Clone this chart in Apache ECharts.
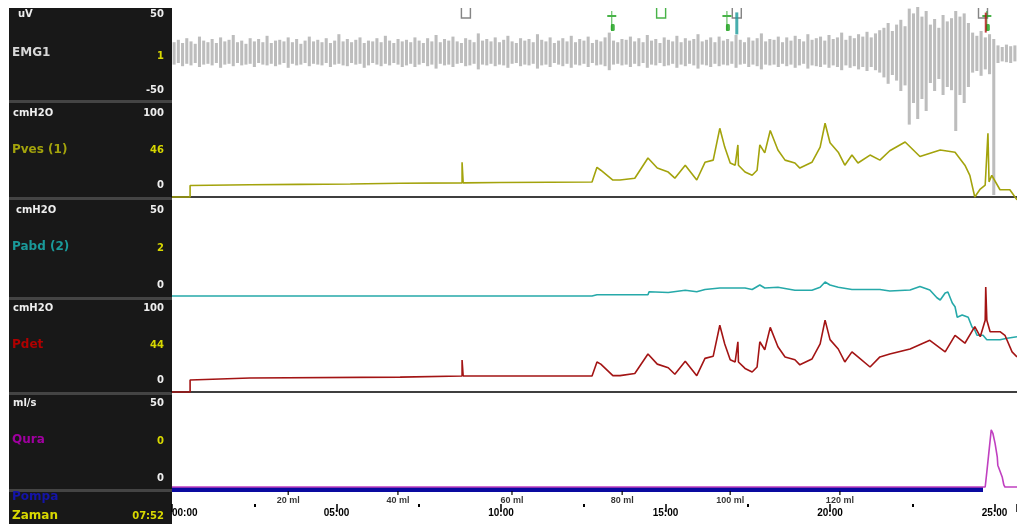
<!DOCTYPE html>
<html><head><meta charset="utf-8">
<script src="https://cdn.jsdelivr.net/npm/echarts/dist/echarts.min.js"></script>
<style>html,body{margin:0;padding:0;background:#fff}#c{width:1017px;height:524px}</style>
</head><body><div id="c"></div>
<script>
const T_MAX = 1541; // seconds
const timeTickStep = 300;

// EMG1 upper / lower excursions per sample (uV)
const emgUp = [
 16,19,15,21,17,14,23,18,16,20,15,22,17,19,25,16,18,14,21,17,20,16,24,15,18,19,17,22,16,20,14,18,23,17,19,16,21,15,18,26,17,20,16,19,22,15,18,17,21,16,24,18,15,20,17,
 19,16,22,18,15,21,17,25,16,20,18,23,17,15,21,19,16,27,18,20,17,22,16,19,24,17,15,21,18,20,16,26,19,17,22,15,18,21,17,24,
 16,20,18,23,15,19,17,22,28,18,16,20,19,23,17,21,16,25,18,20,15,22,19,17,24,16,21,18,20,26,17,19,22,16,23,18,20,17,25,19,
 16,22,18,21,27,17,20,19,23,16,22,18,24,20,17,26,19,21,23,18,25,20,22,28,19,24,21,26,23,29,22,27,31,
 34,40,30,38,44,36,58,52,60,48,55,38,45,34,50,42,46,55,48,52,40,28,24,30,22,26,20,12,10,13,11,12
];
const emgDown = [
 -12,-10,-14,-11,-13,-10,-15,-12,-11,-13,-10,-16,-12,-11,-14,-10,-13,-12,-11,-15,-10,-12,-13,-11,-14,-12,-10,-16,-11,-13,-12,-10,-14,-11,-12,-13,-10,-15,-12,-11,-13,-14,-10,-12,-11,-16,-13,-10,-12,-14,-11,-13,-10,-12,-15,
 -13,-11,-15,-12,-10,-14,-12,-17,-11,-13,-12,-15,-11,-10,-14,-13,-11,-18,-12,-13,-11,-14,-12,-13,-16,-11,-10,-14,-12,-13,
 -11,-17,-13,-12,-15,-10,-12,-14,-11,-16,-12,-13,-11,-15,-10,-13,-12,-14,-19,-12,-11,-13,-12,-15,-11,-14,-10,-16,-12,-13,
 -10,-14,-13,-11,-16,-12,-14,-11,-13,-17,-12,-13,-15,-11,-14,-12,-13,-11,-16,-12,-11,-15,-12,-14,-18,-12,-13,-12,-15,-11,
 -14,-12,-16,-13,-11,-17,-13,-14,-15,-12,-16,-13,-15,-19,-13,-16,-14,-18,-15,-20,-15,-19,-22,
 -28,-36,-25,-32,-45,-38,-87,-60,-80,-55,-70,-35,-45,-30,-50,-40,-44,-95,-50,-60,-40,-22,-20,-26,-18,-24,-175,-10,-8,-9,-10,-8
];

// Pves (1) cmH2O  [time s, value]
const pves = [[0,-16],[33,-16],[33,0],[142,1],[233,1.5],[325,2],[416,3],[529,3.5],[529,32],[531,3.5],[598,4],[689,4.5],[766,4.7],[775,25],[782,21],[804,7.5],[817,7.5],[844,10],[868,38],[885,24],[905,18.5],[917,10],[936,28],[957,7.5],[972,32],[987,35],[999,79],[1008,53],[1018,31],[1027,28],[1032,56],[1033,28],[1045,18.5],[1058,14],[1067,21],[1072,56],[1081,45],[1091,76],[1105,49],[1118,35],[1136,31],[1145,24],[1167,32],[1182,53],[1191,86],[1200,59],[1215,46],[1227,28],[1240,42],[1251,31],[1273,42],[1291,35],[1309,48],[1337,60],[1364,40],[1401,49],[1428,46],[1446,28],[1455,14],[1464,-16],[1474,-5],[1483,0.5],[1488,72],[1490,5],[1495,14],[1510,-6],[1528,-6],[1541,-20]];

// Pabd (2) cmH2O
const pabd = [[0,-7.3],[766,-7.3],[775,-6.5],[868,-6.5],[870,-4.5],[905,-5],[936,-3.5],[957,-4.5],[972,-3],[999,-2],[1045,-2],[1058,-3],[1072,0],[1081,-2],[1105,-1.5],[1136,-3.5],[1167,-3.5],[1182,-1.5],[1191,2],[1200,0],[1215,-1.5],[1240,-3],[1291,-3],[1309,-4],[1346,-3.3],[1364,-1],[1382,-3.3],[1395,-8.5],[1401,-10],[1410,-5.3],[1415,-4.7],[1423,-12],[1428,-14.5],[1432,-21.5],[1441,-20],[1452,-21.5],[1459,-28],[1464,-30],[1468,-33.5],[1479,-33.5],[1486,-36.5],[1510,-36.5],[1523,-35.5],[1541,-34.5]];

// Pdet cmH2O
const pdet = [[0,-16.7],[33,-16.7],[33,0],[142,2.8],[416,4],[529,5.6],[529,27.8],[531,5.6],[766,5.6],[775,25],[782,22],[804,6],[817,6],[844,9],[868,36],[885,22],[905,17],[917,8],[936,26],[957,6],[972,30],[987,33],[999,76],[1008,50],[1018,28],[1027,25],[1032,53],[1033,25],[1045,16],[1058,11],[1067,18],[1072,53],[1081,42],[1091,73],[1105,46],[1118,32],[1136,28],[1145,21],[1167,29],[1182,50],[1191,83],[1200,56],[1215,43],[1227,25],[1240,39],[1251,32],[1273,18],[1291,32],[1309,36],[1346,43],[1382,55],[1410,39],[1428,62],[1446,51],[1464,74],[1474,60],[1483,83],[1484,129],[1486,83],[1492,67],[1510,67],[1519,62],[1532,39],[1541,32]];

// Qura ml/s
const qura = [[0,0],[1483,0],[1486,0],[1486,9],[1494,34],[1497,32],[1501,26],[1505,18],[1506,13],[1514,6],[1517,1.2],[1519,0],[1541,0]];

// Pompa running interval
const pompa = [[0,1],[1479,1]];

// infused volume ticks
const volTimes = [212,412,620,821,1018,1218];
const volLabels = ['20 ml','40 ml','60 ml','80 ml','100 ml','120 ml'];

// event markers
const evGray = [536,1030,1479];
const evGreenT = [802,1012,1486];
const evGreenBox = [892];
const evTeal = [1030];
const evRed = [1484];

const fmtTime = v => { const m = Math.floor(v/60), s = Math.round(v%60); return String(m).padStart(2,'0')+':'+String(s).padStart(2,'0'); };

const L = 172, W = 845;
const grids = [
  {top:8,height:92},{top:103,height:94},{top:200,height:97},{top:300,height:92},{top:395,height:92},{top:487,height:5},{top:494,height:10}
].map(g=>Object.assign({left:L,width:W,containLabel:false},g));

const yRanges = [[-56.25,58.75],[-16,114],[-8,56.7],[-16.7,111],[0,54.8],[0,2],[0,1]];

const xAxes = grids.map((g,i)=>({
  type:'value', gridIndex:i, min:0, max:T_MAX, show:(i===1||i===3),
  axisLine:{show:(i===1||i===3), onZero:false, lineStyle:{color:'#000',width:1.5}},
  axisTick:{show:false}, axisLabel:{show:false}, splitLine:{show:false}
}));
xAxes[6] = {
  type:'value', gridIndex:6, min:0, max:T_MAX, interval:timeTickStep, position:'bottom',
  axisLine:{show:false},
  axisTick:{show:true, length:8, lineStyle:{color:'#000',width:1.5}},
  minorTick:{show:true, splitNumber:2, length:3, lineStyle:{color:'#000',width:2}},
  axisLabel:{show:true, margin:4, fontSize:10, fontWeight:'bold', color:'#000', fontFamily:'Liberation Sans', formatter:fmtTime, alignMinLabel:'left', showMaxLabel:false},
  splitLine:{show:false}
};
const yAxes = yRanges.map((r,i)=>({type:'value', gridIndex:i, min:r[0], max:r[1], show:false}));

const EMG_TOP = 52.5;
const dtEmg = T_MAX / emgUp.length;
const base = {type:'line', showSymbol:false, symbol:'none', clip:false, animation:false};
const series = [
  {type:'custom', xAxisIndex:0, yAxisIndex:0, clip:false, animation:false,
    data: emgUp.map((u,i)=>[(i+0.5)*dtEmg, u, emgDown[i]]),
    encode:{x:0, y:[1,2]},
    renderItem:(params, api)=>{
      const t = api.value(0);
      const p1 = api.coord([t, api.value(1)]);
      const p2 = api.coord([t, api.value(2)]);
      const w = api.size([dtEmg, 0])[0] * 0.72;
      return {type:'rect', shape:{x:p1[0]-w/2, y:p1[1], width:w, height:p2[1]-p1[1]}, style:{fill:'#bdbdbd'}};
    }},
  Object.assign({}, base, {xAxisIndex:1,yAxisIndex:1, data:pves, lineStyle:{color:'#a3a30c',width:1.6}}),
  Object.assign({}, base, {xAxisIndex:2,yAxisIndex:2, data:pabd, lineStyle:{color:'#26a9a9',width:1.6}}),
  Object.assign({}, base, {xAxisIndex:3,yAxisIndex:3, data:pdet, lineStyle:{color:'#a31414',width:1.6}}),
  Object.assign({}, base, {xAxisIndex:4,yAxisIndex:4, data:qura, lineStyle:{color:'#c040c0',width:1.6}, z:3}),
  Object.assign({}, base, {xAxisIndex:5,yAxisIndex:5, data:pompa, lineStyle:{color:'#0a0aa0',width:5}, z:2}),
  {type:'scatter', xAxisIndex:6, yAxisIndex:6, data:volTimes.map((t,i)=>({value:[t,1], label:{formatter:volLabels[i]}})),
    symbol:'rect', symbolSize:[1.5,4], symbolOffset:[0,-1], itemStyle:{color:'#000'}, animation:false,
    label:{show:true, position:'bottom', distance:1, fontSize:9, fontWeight:'bold', color:'#000', fontFamily:'Liberation Sans'}},
  {type:'scatter', xAxisIndex:0, yAxisIndex:0, data:evGray.map(t=>[t,EMG_TOP]), symbol:'path://M0,0 L0,10 L8,10 L8,0', symbolSize:[9,10],
    itemStyle:{color:'none', borderColor:'#666', borderWidth:1.5}, animation:false},
  {type:'scatter', xAxisIndex:0, yAxisIndex:0, data:evGreenBox.map(t=>[t,EMG_TOP]), symbol:'path://M0,0 L0,10 L8,10 L8,0', symbolSize:[9,10],
    itemStyle:{color:'none', borderColor:'#1aa01a', borderWidth:1.5}, animation:false},
  {type:'scatter', xAxisIndex:0, yAxisIndex:0, data:evGreenT.map(t=>[t,EMG_TOP-10]), symbol:'path://M4,0 L4,20 M0,5 L8,5', symbolSize:[9,20],
    itemStyle:{color:'none', borderColor:'#1aa01a', borderWidth:1.5}, animation:false},
  {type:'scatter', xAxisIndex:0, yAxisIndex:0, data:evGreenT.map(t=>[t,EMG_TOP-18]), symbol:'roundRect', symbolSize:[4,7], symbolOffset:[1,0],
    itemStyle:{color:'#1aa01a'}, animation:false},
  {type:'scatter', xAxisIndex:0, yAxisIndex:0, data:evTeal.map(t=>[t,EMG_TOP-13]), symbol:'rect', symbolSize:[3,22],
    itemStyle:{color:'#1a9a9a'}, animation:false},
  {type:'scatter', xAxisIndex:0, yAxisIndex:0, data:evRed.map(t=>[t,EMG_TOP-12]), symbol:'rect', symbolSize:[2,20],
    itemStyle:{color:'#b01010'}, animation:false}
];

// left panel
const fSmall = 'bold 10px "DejaVu Sans"';
const fName = 'bold 12px "DejaVu Sans"';
const txt = (x,y,s,c,align,f) => ({type:'text', x:x, y:y, style:{text:s, fill:c||'#eee', font:f||fSmall, textAlign:align||'left', textVerticalAlign:'middle'}});
const RX = 164;
const Y = '#d8d800';
const graphics = [
  {type:'rect', shape:{x:9,y:8,width:163,height:516}, style:{fill:'#181818'}},
  ...[100,197,297,392,489].map(y=>({type:'rect', shape:{x:9,y:y,width:163,height:3}, style:{fill:'#444'}})),
  txt(18,14,'uV'), txt(RX,14,'50',null,'right'), txt(12,53,'EMG1','#d8d8d8',null,fName), txt(RX,56,'1',Y,'right'), txt(RX,90,'-50',null,'right'),
  txt(13,113,'cmH2O'), txt(RX,113,'100',null,'right'), txt(12,150,'Pves (1)','#a3a30c',null,fName), txt(RX,150,'46',Y,'right'), txt(RX,185,'0',null,'right'),
  txt(16,210,'cmH2O'), txt(RX,210,'50',null,'right'), txt(12,247,'Pabd (2)','#1a9a9a',null,fName), txt(RX,248,'2',Y,'right'), txt(RX,285,'0',null,'right'),
  txt(13,308,'cmH2O'), txt(RX,308,'100',null,'right'), txt(12,345,'Pdet','#b00000',null,fName), txt(RX,345,'44',Y,'right'), txt(RX,380,'0',null,'right'),
  txt(13,403,'ml/s'), txt(RX,403,'50',null,'right'), txt(12,440,'Qura','#a000a0',null,fName), txt(RX,441,'0',Y,'right'), txt(RX,478,'0',null,'right'),
  txt(12,497,'Pompa','#1414a8',null,fName), txt(12,516,'Zaman',Y,null,fName), txt(RX,516,'07:52',Y,'right')
];

const chart = echarts.init(document.getElementById('c'), null, {renderer:'canvas'});
chart.setOption({
  animation:false,
  backgroundColor:'#fff',
  grid:grids, xAxis:xAxes, yAxis:yAxes, series:series,
  graphic:graphics
});
</script></body></html>
